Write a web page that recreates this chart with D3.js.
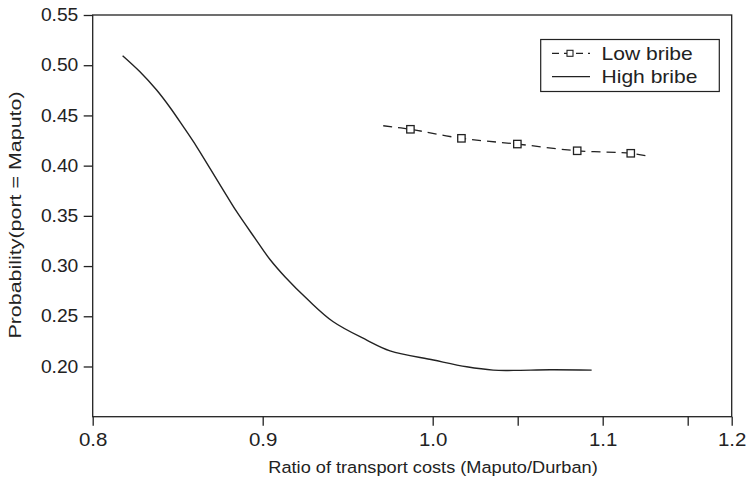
<!DOCTYPE html>
<html>
<head>
<meta charset="utf-8">
<script src="https://cdn.jsdelivr.net/npm/d3@7"></script>
<style>
  html, body { margin: 0; padding: 0; background: #fff; }
  svg { display: block; }
  text { font-family: "Liberation Sans", Arial, Helvetica, sans-serif; fill: #222; }
</style>
</head>
<body>
<svg id="chart" width="754" height="484"></svg>
<script>
// ---- data ----
const highBribeX = [0.8176, 0.8278, 0.8376, 0.8455, 0.8533, 0.8612, 0.8690, 0.8768, 0.8847, 0.8955,
                    0.9043, 0.9132, 0.9268, 0.9415, 0.9612, 0.9749, 1.0004, 1.0200, 1.0356,
                    1.0474, 1.0690, 1.0935];
const highBribeY = [0.5095, 0.4935, 0.4753, 0.4579, 0.4388, 0.4188, 0.3973, 0.3757, 0.3541, 0.3276,
                    0.3065, 0.2891, 0.2661, 0.2445, 0.2263, 0.2156, 0.2064, 0.1997, 0.1964,
                    0.1961, 0.1967, 0.1964];
const lowBribeX = [0.9709, 0.9869, 1.0169, 1.0498, 1.0850, 1.1165, 1.1263];
const lowBribeY = [0.4397, 0.4362, 0.4272, 0.4215, 0.4148, 0.4123, 0.4096];
const lowBribeMarkerX = [0.9869, 1.0169, 1.0498, 1.0850, 1.1165];
const lowBribeMarkerY = [0.4362, 0.4272, 0.4215, 0.4148, 0.4123];
const xTickLabels = [0.8, 0.9, 1.0, 1.1, 1.2];
const xMinorTicks = [1.05, 1.15];
const yTickValues = [0.20, 0.25, 0.30, 0.35, 0.40, 0.45, 0.50, 0.55];
const seriesNames = ["Low bribe", "High bribe"];
const xTitle = "Ratio of transport costs (Maputo/Durban)";
const yTitle = "Probability(port = Maputo)";

// ---- layout ----
const svg = d3.select("#chart");
const mLeft = 92.7, mRight = 731.7, mTop = 15, mBottom = 416.7;
const ink = "#222";
const font = "'Liberation Sans', Arial, Helvetica, sans-serif";

// The printed x axis is not uniform after 1.1; use a piecewise-linear scale
const x = d3.scaleLinear()
  .domain([0.8, 1.1, 1.15, 1.2])
  .range([mLeft, 602.7, 687.7, mRight]);
const y = d3.scaleLinear().domain([0.15, 0.55]).range([mBottom, mTop]);

// frame
svg.append("rect")
  .attr("x", mLeft).attr("y", mTop)
  .attr("width", mRight - mLeft).attr("height", mBottom - mTop)
  .attr("fill", "none").attr("stroke", ink).attr("stroke-width", 1.3);

// x axis
const xAxis = d3.axisBottom(x)
  .tickValues(xTickLabels.concat(xMinorTicks))
  .tickFormat(d => xTickLabels.includes(d) ? d3.format(".1f")(d) : "")
  .tickSizeInner(9).tickSizeOuter(0).tickPadding(7.5);
const gx = svg.append("g").attr("transform", `translate(0,${mBottom})`).call(xAxis);
gx.select(".domain").remove();
gx.selectAll("line").attr("stroke", ink).attr("stroke-width", 1.3);
gx.selectAll("text").attr("font-size", 17.5).attr("font-family", font).style("fill", ink)
  .attr("transform", "scale(1.17,1)");

// y axis
const yStretch = 1.1;
const yAxis = d3.axisLeft(y)
  .tickValues(yTickValues)
  .tickFormat(d3.format(".2f"))
  .tickSizeInner(9).tickSizeOuter(0).tickPadding(5.4);
const gy = svg.append("g").attr("transform", `translate(${mLeft},0)`).call(yAxis);
gy.select(".domain").remove();
gy.selectAll("line").attr("stroke", ink).attr("stroke-width", 1.3);
gy.selectAll("text").attr("font-size", 17.5).attr("font-family", font).style("fill", ink)
  .attr("x", -14.4 / yStretch)
  .attr("transform", `scale(${yStretch},1)`);

// axis titles
svg.append("text")
  .attr("transform", `translate(433,473) scale(1.07,1)`)
  .attr("text-anchor", "middle").attr("font-size", 17)
  .text(xTitle);
svg.append("text")
  .attr("transform", `translate(20.5,215) rotate(-90) scale(1.3,1)`)
  .attr("text-anchor", "middle").attr("font-size", 16.5)
  .text(yTitle);

// lines
const line = d3.line()
  .x(d => x(d[0])).y(d => y(d[1]))
  .curve(d3.curveCatmullRom.alpha(0.5));

const highData = d3.zip(highBribeX, highBribeY);
const lowData = d3.zip(lowBribeX, lowBribeY);
const markerData = d3.zip(lowBribeMarkerX, lowBribeMarkerY);

svg.append("path").datum(highData)
  .attr("d", line)
  .attr("fill", "none").attr("stroke", ink).attr("stroke-width", 1.4);

svg.append("path").datum(lowData)
  .attr("d", line)
  .attr("fill", "none").attr("stroke", ink).attr("stroke-width", 1.3)
  .attr("stroke-dasharray", "9,6");

svg.append("g").selectAll("rect").data(markerData).join("rect")
  .attr("x", d => x(d[0]) - 3.7).attr("y", d => y(d[1]) - 3.7)
  .attr("width", 7.4).attr("height", 7.4)
  .attr("fill", "#fff").attr("stroke", ink).attr("stroke-width", 1.3);

// legend
const lg = svg.append("g");
lg.append("rect")
  .attr("x", 540.7).attr("y", 39.5)
  .attr("width", 178.6).attr("height", 52)
  .attr("fill", "#fff").attr("stroke", ink).attr("stroke-width", 1.2);
const row1 = 53.3, row2 = 76.7;
lg.append("line")
  .attr("x1", 552).attr("x2", 590).attr("y1", row1).attr("y2", row1)
  .attr("stroke", ink).attr("stroke-width", 1.2)
  .attr("stroke-dasharray", "7,5");
lg.append("rect")
  .attr("x", 567).attr("y", row1 - 3).attr("width", 6).attr("height", 6)
  .attr("fill", "#fff").attr("stroke", ink).attr("stroke-width", 1.1);
lg.append("line")
  .attr("x1", 552).attr("x2", 590).attr("y1", row2).attr("y2", row2)
  .attr("stroke", ink).attr("stroke-width", 1.3);
lg.selectAll("text.lbl").data(seriesNames).join("text")
  .attr("class", "lbl")
  .attr("transform", (d, i) => `translate(601.5,${(i === 0 ? row1 : row2) + 6.3}) scale(1.17,1)`)
  .attr("font-size", 18)
  .text(d => d);
</script>
</body>
</html>
